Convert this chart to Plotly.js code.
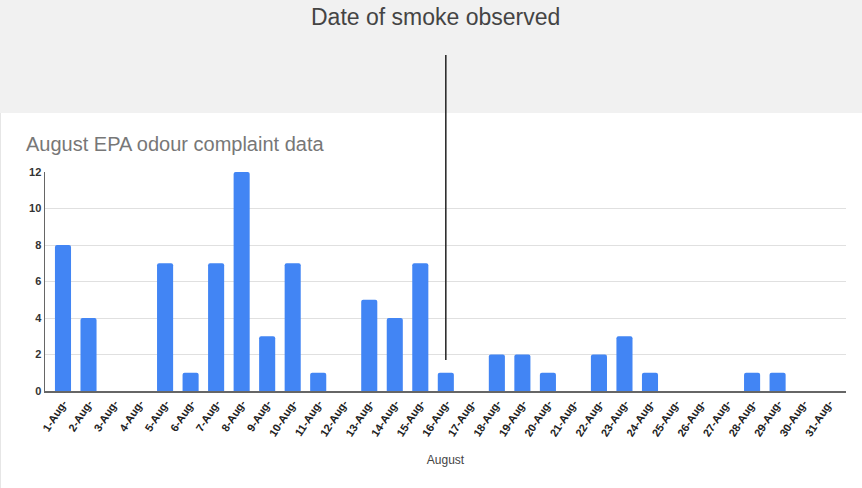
<!DOCTYPE html>
<html>
<head>
<meta charset="utf-8">
<script src="https://cdn.plot.ly/plotly-3.0.1.min.js"></script>
<style>html,body{margin:0;padding:0;background:#fff;}#chart{width:862px;height:488px;}</style>
</head>
<body>
<div id="chart"></div>
<script>
const dates = ["1-Aug-","2-Aug-","3-Aug-","4-Aug-","5-Aug-","6-Aug-","7-Aug-","8-Aug-","9-Aug-","10-Aug-",
  "11-Aug-","12-Aug-","13-Aug-","14-Aug-","15-Aug-","16-Aug-","17-Aug-","18-Aug-","19-Aug-","20-Aug-",
  "21-Aug-","22-Aug-","23-Aug-","24-Aug-","25-Aug-","26-Aug-","27-Aug-","28-Aug-","29-Aug-","30-Aug-","31-Aug-"];
const complaints = [8,4,0,0,7,1,7,12,3,7,1,0,5,4,7,1,0,2,2,1,0,2,3,1,0,0,0,1,1,0,0];
const yTicks = [0,2,4,6,8,10,12];
const smokeDate = "16-Aug-";

const trace = {
  type: "bar",
  x: dates,
  y: complaints,
  marker: {color: "#4285F4", cornerradius: 2},
  hoverinfo: "x+y"
};

const layout = {
  width: 862, height: 488,
  margin: {l: 45, r: 16, t: 172, b: 97},
  paper_bgcolor: "#ffffff",
  plot_bgcolor: "rgba(0,0,0,0)",
  bargap: 0.37,
  showlegend: false,
  xaxis: {
    type: "category",
    range: [-0.705, 30.68],
    tickangle: -57,
    tickfont: {family: "Liberation Sans, Arial, sans-serif", size: 11, color: "#222", weight: "bold"},
    showgrid: false,
    showline: true, linecolor: "#666", linewidth: 1.5,
    ticks: "",
    title: {text: "August", font: {family: "Liberation Sans, Arial, sans-serif", size: 12, color: "#444"}, standoff: 18},
    fixedrange: true
  },
  yaxis: {
    range: [0, 12],
    tickvals: yTicks,
    tickfont: {family: "Liberation Sans, Arial, sans-serif", size: 11, color: "#333", weight: "bold"},
    showgrid: true, gridcolor: "#e0e0e0", gridwidth: 1,
    zeroline: false,
    showline: true, linecolor: "#666", linewidth: 1.5,
    ticks: "", ticklen: 0,
    fixedrange: true
  },
  shapes: [
    {type: "rect", xref: "paper", yref: "paper", x0: -0.06, x1: 1.03, y0: 1.2694, y1: 1.79,
     fillcolor: "#f1f1f1", line: {width: 0}, layer: "below"},
    {type: "line", xref: "paper", yref: "paper", x0: -0.0555, x1: -0.0555, y0: -0.45, y1: 1.2694,
     line: {color: "#e6e6e6", width: 1}, layer: "below"},
    {type: "line", xref: "x", yref: "paper", x0: smokeDate, x1: smokeDate, y0: 0.1416, y1: 1.534,
     line: {color: "#222", width: 1.5}}
  ],
  annotations: [
    {text: "Date of smoke observed", xref: "paper", yref: "paper", x: 0.4875, y: 1.708,
     xanchor: "center", yanchor: "middle", showarrow: false,
     font: {family: "Liberation Sans, Arial, sans-serif", size: 23, color: "#444"}},
    {text: "August EPA odour complaint data", xref: "paper", yref: "paper", x: -0.0262, y: 1.128,
     xanchor: "left", yanchor: "middle", showarrow: false,
     font: {family: "Liberation Sans, Arial, sans-serif", size: 20, color: "#777"}}
  ]
};

Plotly.newPlot("chart", [trace], layout, {displayModeBar: false, staticPlot: true});
</script>
</body>
</html>
